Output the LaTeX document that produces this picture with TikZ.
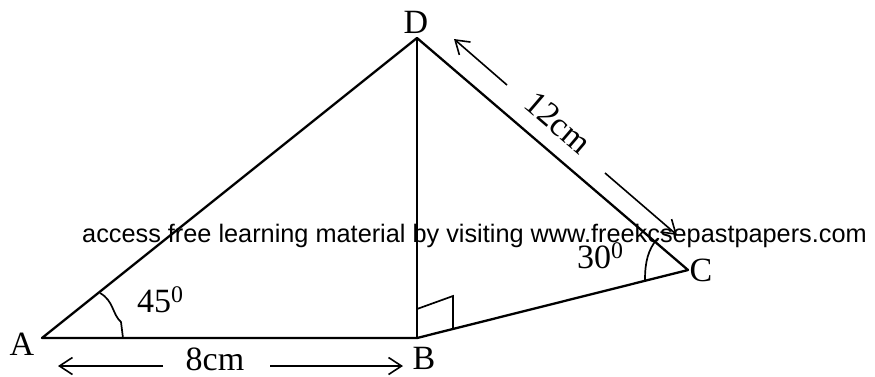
\documentclass[tikz,border=0pt]{standalone}
\usepackage{fontspec}
\setmainfont{Liberation Serif}
\newfontfamily\arialfont{Liberation Sans}
\usetikzlibrary{arrows.meta}
\tikzset{
  edge/.style={line width=2.3pt, line join=round},
  thin/.style={line width=1.7pt},
  dimarrow/.style={line width=1.6pt, -{Straight Barb[length=13pt,width=17pt,line width=1.6pt]}},
  lbl/.style={inner sep=0pt, font=\fontsize{34}{34}\selectfont},
  wm/.style={inner sep=0pt, font=\arialfont\fontsize{25.3}{26}\selectfont}
}
\begin{document}
\begin{tikzpicture}[x=1pt,y=-1pt]
\useasboundingbox (0,0) rectangle (875,376);
% vertices
\coordinate (A) at (42,338);
\coordinate (B) at (417,338);
\coordinate (C) at (688,270);
\coordinate (D) at (417,38);
% triangle edges
\draw[edge] (A) -- (B) -- (C) -- (D) -- cycle;
\draw[edge] (D) -- (B);
% right angle
\coordinate (r1) at (417,309);
\coordinate (r2) at (453,296);
\coordinate (r3) at (453,328);
\draw[thin] (r1) -- (r2) -- (r3);
% angle marks
\coordinate (a1) at (100,293);
\coordinate (a2) at (123,338);
\draw[thin] (a1) .. controls (114,301) and (112,314) .. (121,322) -- (a2);
\coordinate (c1) at (657,239);
\coordinate (c2) at (645,280);
\draw[thin] (c1) .. controls (648,250) and (645,262) .. (c2);
% labels
\node[lbl] (lA) at (22,344) {A};
\node[lbl] (lB) at (424,358) {B};
\node[lbl] (lC) at (701,270) {C};
\node[lbl] (lD) at (416,22) {D};
\node[lbl, anchor=base west] (l45) at (137,312) {45\textsuperscript{0}};
\node[lbl, anchor=base west] (l30) at (577,268) {30\textsuperscript{0}};
\node[lbl] (l8) at (215,359) {8cm};
\node[lbl, rotate=-40.6] (l12) at (558,123) {12cm};
% dimension arrows
\coordinate (p1) at (163,366);
\coordinate (p2) at (58,366);
\coordinate (p3) at (270,366);
\coordinate (p4) at (403,366);
\draw[dimarrow] (p1) -- (p2);
\draw[dimarrow] (p3) -- (p4);
\coordinate (q1) at (507,85);
\coordinate (q2) at (454,39);
\coordinate (q3) at (605,173);
\coordinate (q4) at (677,235);
\draw[dimarrow] (q1) -- (q2);
\draw[dimarrow] (q3) -- (q4);
% watermark
\node[wm, anchor=base] (wm) at (474.5,242) {access free learning material by visiting www.freekcsepastpapers.com};
\end{tikzpicture}
\end{document}
